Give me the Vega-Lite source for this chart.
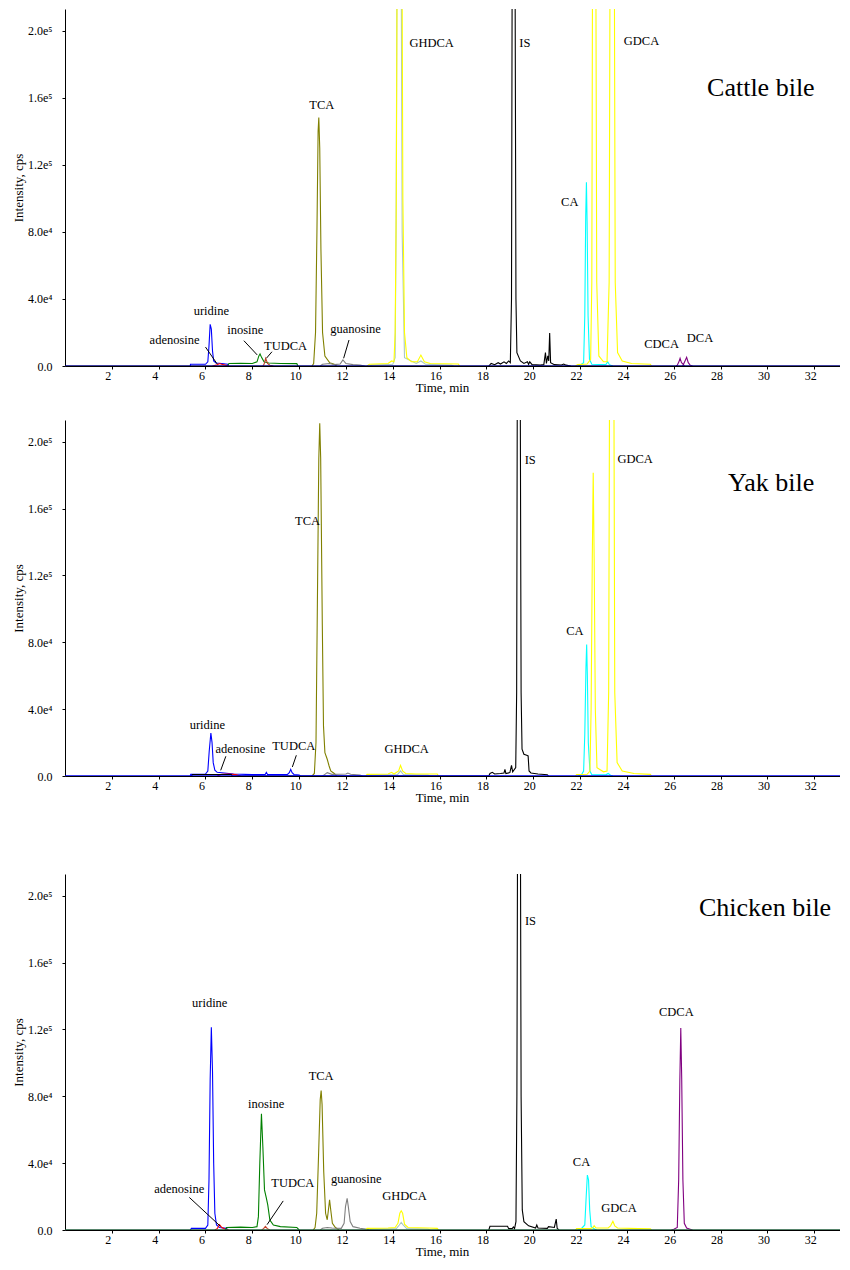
{
"$schema":"https://vega.github.io/schema/vega-lite/v6.json",
"padding":{"top":9,"left":12,"right":0,"bottom":0},
"background":"white",
"config":{"view":{"stroke":null},"font":"Liberation Serif","axis":{"domainColor":"black","tickColor":"black","labelColor":"black","titleColor":"black","grid":false,"labelFont":"Liberation Serif","titleFont":"Liberation Serif","titleFontWeight":"normal","labelFontSize":12,"titleFontSize":13}},
"datasets":{
"traces":[
{"sample":"Cattle","trace":"baseline (cattle)","time":0,"cps":0},{"sample":"Cattle","trace":"baseline (cattle)","time":33.1,"cps":0},
{"sample":"Cattle","trace":"uridine","time":5.35,"cps":0},{"sample":"Cattle","trace":"uridine","time":5.36,"cps":1000},{"sample":"Cattle","trace":"uridine","time":6.0,"cps":1000},{"sample":"Cattle","trace":"uridine","time":6.1,"cps":2500},{"sample":"Cattle","trace":"uridine","time":6.15,"cps":12000},{"sample":"Cattle","trace":"uridine","time":6.2,"cps":24900},{"sample":"Cattle","trace":"uridine","time":6.25,"cps":22000},{"sample":"Cattle","trace":"uridine","time":6.3,"cps":9000},{"sample":"Cattle","trace":"uridine","time":6.35,"cps":3000},{"sample":"Cattle","trace":"uridine","time":6.45,"cps":1800},{"sample":"Cattle","trace":"uridine","time":6.7,"cps":1500},{"sample":"Cattle","trace":"uridine","time":6.95,"cps":1000},{"sample":"Cattle","trace":"uridine","time":7.0,"cps":0},
{"sample":"Cattle","trace":"adenosine","time":6.3,"cps":0},{"sample":"Cattle","trace":"adenosine","time":6.5,"cps":800},{"sample":"Cattle","trace":"adenosine","time":6.6,"cps":1500},{"sample":"Cattle","trace":"adenosine","time":6.75,"cps":800},{"sample":"Cattle","trace":"adenosine","time":7.0,"cps":0},
{"sample":"Cattle","trace":"inosine","time":6.95,"cps":0},{"sample":"Cattle","trace":"inosine","time":7.0,"cps":1500},{"sample":"Cattle","trace":"inosine","time":7.5,"cps":1600},{"sample":"Cattle","trace":"inosine","time":8.0,"cps":1500},{"sample":"Cattle","trace":"inosine","time":8.2,"cps":2500},{"sample":"Cattle","trace":"inosine","time":8.28,"cps":6000},{"sample":"Cattle","trace":"inosine","time":8.33,"cps":7200},{"sample":"Cattle","trace":"inosine","time":8.4,"cps":5000},{"sample":"Cattle","trace":"inosine","time":8.5,"cps":2500},{"sample":"Cattle","trace":"inosine","time":8.7,"cps":1800},{"sample":"Cattle","trace":"inosine","time":9.2,"cps":1500},{"sample":"Cattle","trace":"inosine","time":9.9,"cps":1400},{"sample":"Cattle","trace":"inosine","time":9.95,"cps":0},
{"sample":"Cattle","trace":"TUDCA","time":8.45,"cps":0},{"sample":"Cattle","trace":"TUDCA","time":8.5,"cps":1000},{"sample":"Cattle","trace":"TUDCA","time":8.57,"cps":4600},{"sample":"Cattle","trace":"TUDCA","time":8.65,"cps":1500},{"sample":"Cattle","trace":"TUDCA","time":8.75,"cps":500},{"sample":"Cattle","trace":"TUDCA","time":8.9,"cps":0},
{"sample":"Cattle","trace":"TCA","time":10.55,"cps":0},{"sample":"Cattle","trace":"TCA","time":10.62,"cps":1500},{"sample":"Cattle","trace":"TCA","time":10.7,"cps":20000},{"sample":"Cattle","trace":"TCA","time":10.76,"cps":80000},{"sample":"Cattle","trace":"TCA","time":10.81,"cps":140000},{"sample":"Cattle","trace":"TCA","time":10.84,"cps":148200},{"sample":"Cattle","trace":"TCA","time":10.88,"cps":130000},{"sample":"Cattle","trace":"TCA","time":10.93,"cps":70000},{"sample":"Cattle","trace":"TCA","time":11.0,"cps":20000},{"sample":"Cattle","trace":"TCA","time":11.1,"cps":6000},{"sample":"Cattle","trace":"TCA","time":11.3,"cps":2000},{"sample":"Cattle","trace":"TCA","time":11.5,"cps":1000},{"sample":"Cattle","trace":"TCA","time":11.6,"cps":0},
{"sample":"Cattle","trace":"guanosine","time":10.9,"cps":0},{"sample":"Cattle","trace":"guanosine","time":11.0,"cps":1000},{"sample":"Cattle","trace":"guanosine","time":11.3,"cps":1500},{"sample":"Cattle","trace":"guanosine","time":11.5,"cps":800},{"sample":"Cattle","trace":"guanosine","time":11.75,"cps":1200},{"sample":"Cattle","trace":"guanosine","time":11.87,"cps":3600},{"sample":"Cattle","trace":"guanosine","time":12.0,"cps":1500},{"sample":"Cattle","trace":"guanosine","time":12.3,"cps":800},{"sample":"Cattle","trace":"guanosine","time":12.6,"cps":500},{"sample":"Cattle","trace":"guanosine","time":12.8,"cps":0},
{"sample":"Cattle","trace":"unidentified","time":13.0,"cps":0},{"sample":"Cattle","trace":"unidentified","time":13.1,"cps":500},{"sample":"Cattle","trace":"unidentified","time":14.0,"cps":1000},{"sample":"Cattle","trace":"unidentified","time":14.1,"cps":5000},{"sample":"Cattle","trace":"unidentified","time":14.14,"cps":80000},{"sample":"Cattle","trace":"unidentified","time":14.19,"cps":280000},{"sample":"Cattle","trace":"unidentified","time":14.26,"cps":550000},{"sample":"Cattle","trace":"unidentified","time":14.35,"cps":280000},{"sample":"Cattle","trace":"unidentified","time":14.4,"cps":80000},{"sample":"Cattle","trace":"unidentified","time":14.5,"cps":5000},{"sample":"Cattle","trace":"unidentified","time":15.0,"cps":1500},{"sample":"Cattle","trace":"unidentified","time":15.2,"cps":3000},{"sample":"Cattle","trace":"unidentified","time":15.4,"cps":1000},{"sample":"Cattle","trace":"unidentified","time":16.5,"cps":500},{"sample":"Cattle","trace":"unidentified","time":16.6,"cps":0},
{"sample":"Cattle","trace":"GHDCA","time":12.9,"cps":0},{"sample":"Cattle","trace":"GHDCA","time":13.0,"cps":1000},{"sample":"Cattle","trace":"GHDCA","time":13.8,"cps":1500},{"sample":"Cattle","trace":"GHDCA","time":13.95,"cps":3000},{"sample":"Cattle","trace":"GHDCA","time":14.05,"cps":2500},{"sample":"Cattle","trace":"GHDCA","time":14.1,"cps":20000},{"sample":"Cattle","trace":"GHDCA","time":14.15,"cps":100000},{"sample":"Cattle","trace":"GHDCA","time":14.2,"cps":300000},{"sample":"Cattle","trace":"GHDCA","time":14.28,"cps":600000},{"sample":"Cattle","trace":"GHDCA","time":14.38,"cps":300000},{"sample":"Cattle","trace":"GHDCA","time":14.43,"cps":100000},{"sample":"Cattle","trace":"GHDCA","time":14.5,"cps":20000},{"sample":"Cattle","trace":"GHDCA","time":14.6,"cps":5000},{"sample":"Cattle","trace":"GHDCA","time":14.8,"cps":2500},{"sample":"Cattle","trace":"GHDCA","time":15.05,"cps":2500},{"sample":"Cattle","trace":"GHDCA","time":15.2,"cps":6500},{"sample":"Cattle","trace":"GHDCA","time":15.35,"cps":2500},{"sample":"Cattle","trace":"GHDCA","time":15.6,"cps":1500},{"sample":"Cattle","trace":"GHDCA","time":16.8,"cps":1200},{"sample":"Cattle","trace":"GHDCA","time":16.85,"cps":0},
{"sample":"Cattle","trace":"IS","time":18.1,"cps":0},{"sample":"Cattle","trace":"IS","time":18.2,"cps":1500},{"sample":"Cattle","trace":"IS","time":18.35,"cps":800},{"sample":"Cattle","trace":"IS","time":18.5,"cps":2000},{"sample":"Cattle","trace":"IS","time":18.6,"cps":1200},{"sample":"Cattle","trace":"IS","time":18.75,"cps":2500},{"sample":"Cattle","trace":"IS","time":18.85,"cps":1500},{"sample":"Cattle","trace":"IS","time":18.95,"cps":3000},{"sample":"Cattle","trace":"IS","time":19.02,"cps":2000},{"sample":"Cattle","trace":"IS","time":19.07,"cps":40000},{"sample":"Cattle","trace":"IS","time":19.1,"cps":250000},{"sample":"Cattle","trace":"IS","time":19.16,"cps":600000},{"sample":"Cattle","trace":"IS","time":19.22,"cps":250000},{"sample":"Cattle","trace":"IS","time":19.26,"cps":40000},{"sample":"Cattle","trace":"IS","time":19.3,"cps":8000},{"sample":"Cattle","trace":"IS","time":19.45,"cps":3000},{"sample":"Cattle","trace":"IS","time":19.6,"cps":1500},{"sample":"Cattle","trace":"IS","time":19.75,"cps":2500},{"sample":"Cattle","trace":"IS","time":19.8,"cps":1000},{"sample":"Cattle","trace":"IS","time":19.85,"cps":2500},{"sample":"Cattle","trace":"IS","time":19.95,"cps":800},{"sample":"Cattle","trace":"IS","time":20.3,"cps":500},{"sample":"Cattle","trace":"IS","time":20.45,"cps":800},{"sample":"Cattle","trace":"IS","time":20.52,"cps":8000},{"sample":"Cattle","trace":"IS","time":20.56,"cps":1500},{"sample":"Cattle","trace":"IS","time":20.62,"cps":6000},{"sample":"Cattle","trace":"IS","time":20.66,"cps":3000},{"sample":"Cattle","trace":"IS","time":20.7,"cps":19700},{"sample":"Cattle","trace":"IS","time":20.74,"cps":2000},{"sample":"Cattle","trace":"IS","time":20.9,"cps":800},{"sample":"Cattle","trace":"IS","time":21.2,"cps":600},{"sample":"Cattle","trace":"IS","time":21.3,"cps":1200},{"sample":"Cattle","trace":"IS","time":21.4,"cps":500},{"sample":"Cattle","trace":"IS","time":21.6,"cps":0},
{"sample":"Cattle","trace":"CA","time":21.9,"cps":0},{"sample":"Cattle","trace":"CA","time":22.0,"cps":500},{"sample":"Cattle","trace":"CA","time":22.15,"cps":2000},{"sample":"Cattle","trace":"CA","time":22.2,"cps":30000},{"sample":"Cattle","trace":"CA","time":22.24,"cps":90000},{"sample":"Cattle","trace":"CA","time":22.27,"cps":109700},{"sample":"Cattle","trace":"CA","time":22.3,"cps":85000},{"sample":"Cattle","trace":"CA","time":22.34,"cps":30000},{"sample":"Cattle","trace":"CA","time":22.4,"cps":4000},{"sample":"Cattle","trace":"CA","time":22.5,"cps":1000},{"sample":"Cattle","trace":"CA","time":23.1,"cps":800},{"sample":"Cattle","trace":"CA","time":23.18,"cps":2500},{"sample":"Cattle","trace":"CA","time":23.25,"cps":800},{"sample":"Cattle","trace":"CA","time":23.4,"cps":0},
{"sample":"Cattle","trace":"GDCA","time":21.8,"cps":0},{"sample":"Cattle","trace":"GDCA","time":21.9,"cps":800},{"sample":"Cattle","trace":"GDCA","time":22.3,"cps":1200},{"sample":"Cattle","trace":"GDCA","time":22.45,"cps":4000},{"sample":"Cattle","trace":"GDCA","time":22.5,"cps":50000},{"sample":"Cattle","trace":"GDCA","time":22.54,"cps":300000},{"sample":"Cattle","trace":"GDCA","time":22.6,"cps":600000},{"sample":"Cattle","trace":"GDCA","time":22.66,"cps":300000},{"sample":"Cattle","trace":"GDCA","time":22.71,"cps":50000},{"sample":"Cattle","trace":"GDCA","time":22.8,"cps":6000},{"sample":"Cattle","trace":"GDCA","time":23.0,"cps":2500},{"sample":"Cattle","trace":"GDCA","time":23.15,"cps":2500},{"sample":"Cattle","trace":"GDCA","time":23.24,"cps":50000},{"sample":"Cattle","trace":"GDCA","time":23.29,"cps":300000},{"sample":"Cattle","trace":"GDCA","time":23.37,"cps":600000},{"sample":"Cattle","trace":"GDCA","time":23.45,"cps":300000},{"sample":"Cattle","trace":"GDCA","time":23.5,"cps":50000},{"sample":"Cattle","trace":"GDCA","time":23.6,"cps":8000},{"sample":"Cattle","trace":"GDCA","time":23.8,"cps":3000},{"sample":"Cattle","trace":"GDCA","time":24.2,"cps":1500},{"sample":"Cattle","trace":"GDCA","time":25.0,"cps":1000},{"sample":"Cattle","trace":"GDCA","time":25.05,"cps":0},
{"sample":"Cattle","trace":"CDCA","time":26.1,"cps":0},{"sample":"Cattle","trace":"CDCA","time":26.15,"cps":500},{"sample":"Cattle","trace":"CDCA","time":26.22,"cps":2500},{"sample":"Cattle","trace":"CDCA","time":26.27,"cps":4600},{"sample":"Cattle","trace":"CDCA","time":26.33,"cps":2000},{"sample":"Cattle","trace":"CDCA","time":26.4,"cps":1200},{"sample":"Cattle","trace":"CDCA","time":26.45,"cps":0},
{"sample":"Cattle","trace":"DCA","time":26.38,"cps":0},{"sample":"Cattle","trace":"DCA","time":26.42,"cps":1200},{"sample":"Cattle","trace":"DCA","time":26.48,"cps":3000},{"sample":"Cattle","trace":"DCA","time":26.55,"cps":5200},{"sample":"Cattle","trace":"DCA","time":26.62,"cps":2000},{"sample":"Cattle","trace":"DCA","time":26.7,"cps":500},{"sample":"Cattle","trace":"DCA","time":26.8,"cps":0},

{"sample":"Yak","trace":"baseline (yak)","time":0,"cps":0},{"sample":"Yak","trace":"baseline (yak)","time":33.1,"cps":0},
{"sample":"Yak","trace":"uridine","time":5.35,"cps":0},{"sample":"Yak","trace":"uridine","time":5.37,"cps":1000},{"sample":"Yak","trace":"uridine","time":6.0,"cps":1200},{"sample":"Yak","trace":"uridine","time":6.1,"cps":3000},{"sample":"Yak","trace":"uridine","time":6.16,"cps":15000},{"sample":"Yak","trace":"uridine","time":6.23,"cps":25700},{"sample":"Yak","trace":"uridine","time":6.28,"cps":20000},{"sample":"Yak","trace":"uridine","time":6.33,"cps":8000},{"sample":"Yak","trace":"uridine","time":6.4,"cps":3500},{"sample":"Yak","trace":"uridine","time":6.5,"cps":2200},{"sample":"Yak","trace":"uridine","time":6.8,"cps":1800},{"sample":"Yak","trace":"uridine","time":7.2,"cps":1200},{"sample":"Yak","trace":"uridine","time":8.0,"cps":800},{"sample":"Yak","trace":"uridine","time":8.55,"cps":900},{"sample":"Yak","trace":"uridine","time":8.6,"cps":2200},{"sample":"Yak","trace":"uridine","time":8.65,"cps":900},{"sample":"Yak","trace":"uridine","time":9.5,"cps":900},{"sample":"Yak","trace":"uridine","time":9.58,"cps":2000},{"sample":"Yak","trace":"uridine","time":9.64,"cps":4000},{"sample":"Yak","trace":"uridine","time":9.7,"cps":2000},{"sample":"Yak","trace":"uridine","time":9.78,"cps":900},{"sample":"Yak","trace":"uridine","time":10.0,"cps":600},{"sample":"Yak","trace":"uridine","time":10.05,"cps":0},
{"sample":"Yak","trace":"adenosine","time":6.5,"cps":0},{"sample":"Yak","trace":"adenosine","time":6.7,"cps":1000},{"sample":"Yak","trace":"adenosine","time":7.0,"cps":1200},{"sample":"Yak","trace":"adenosine","time":7.3,"cps":800},{"sample":"Yak","trace":"adenosine","time":7.5,"cps":0},
{"sample":"Yak","trace":"TCA","time":10.55,"cps":0},{"sample":"Yak","trace":"TCA","time":10.65,"cps":1500},{"sample":"Yak","trace":"TCA","time":10.72,"cps":20000},{"sample":"Yak","trace":"TCA","time":10.77,"cps":90000},{"sample":"Yak","trace":"TCA","time":10.84,"cps":190000},{"sample":"Yak","trace":"TCA","time":10.88,"cps":211000},{"sample":"Yak","trace":"TCA","time":10.92,"cps":190000},{"sample":"Yak","trace":"TCA","time":10.99,"cps":90000},{"sample":"Yak","trace":"TCA","time":11.04,"cps":30000},{"sample":"Yak","trace":"TCA","time":11.1,"cps":14000},{"sample":"Yak","trace":"TCA","time":11.2,"cps":10000},{"sample":"Yak","trace":"TCA","time":11.28,"cps":6000},{"sample":"Yak","trace":"TCA","time":11.35,"cps":3000},{"sample":"Yak","trace":"TCA","time":11.5,"cps":1500},{"sample":"Yak","trace":"TCA","time":11.6,"cps":0},
{"sample":"Yak","trace":"guanosine","time":11.0,"cps":0},{"sample":"Yak","trace":"guanosine","time":11.1,"cps":1000},{"sample":"Yak","trace":"guanosine","time":11.2,"cps":2000},{"sample":"Yak","trace":"guanosine","time":11.4,"cps":1000},{"sample":"Yak","trace":"guanosine","time":12.0,"cps":1200},{"sample":"Yak","trace":"guanosine","time":12.08,"cps":1800},{"sample":"Yak","trace":"guanosine","time":12.2,"cps":1000},{"sample":"Yak","trace":"guanosine","time":12.6,"cps":500},{"sample":"Yak","trace":"guanosine","time":12.7,"cps":0},
{"sample":"Yak","trace":"unidentified","time":13.0,"cps":0},{"sample":"Yak","trace":"unidentified","time":13.1,"cps":500},{"sample":"Yak","trace":"unidentified","time":14.2,"cps":800},{"sample":"Yak","trace":"unidentified","time":14.33,"cps":3000},{"sample":"Yak","trace":"unidentified","time":14.45,"cps":900},{"sample":"Yak","trace":"unidentified","time":15.5,"cps":500},{"sample":"Yak","trace":"unidentified","time":15.6,"cps":0},
{"sample":"Yak","trace":"GHDCA","time":12.85,"cps":0},{"sample":"Yak","trace":"GHDCA","time":12.9,"cps":1000},{"sample":"Yak","trace":"GHDCA","time":13.8,"cps":1200},{"sample":"Yak","trace":"GHDCA","time":13.95,"cps":2200},{"sample":"Yak","trace":"GHDCA","time":14.05,"cps":1200},{"sample":"Yak","trace":"GHDCA","time":14.25,"cps":3000},{"sample":"Yak","trace":"GHDCA","time":14.33,"cps":6400},{"sample":"Yak","trace":"GHDCA","time":14.42,"cps":3000},{"sample":"Yak","trace":"GHDCA","time":14.55,"cps":1500},{"sample":"Yak","trace":"GHDCA","time":15.0,"cps":1200},{"sample":"Yak","trace":"GHDCA","time":15.9,"cps":1200},{"sample":"Yak","trace":"GHDCA","time":15.95,"cps":0},
{"sample":"Yak","trace":"IS","time":5.4,"cps":0},{"sample":"Yak","trace":"IS","time":5.45,"cps":900},{"sample":"Yak","trace":"IS","time":7.1,"cps":900},{"sample":"Yak","trace":"IS","time":7.15,"cps":0},{"sample":"Yak","trace":"IS","time":18.1,"cps":0},{"sample":"Yak","trace":"IS","time":18.15,"cps":1500},{"sample":"Yak","trace":"IS","time":18.25,"cps":2200},{"sample":"Yak","trace":"IS","time":18.35,"cps":1200},{"sample":"Yak","trace":"IS","time":18.6,"cps":1500},{"sample":"Yak","trace":"IS","time":18.75,"cps":1800},{"sample":"Yak","trace":"IS","time":18.79,"cps":4000},{"sample":"Yak","trace":"IS","time":18.83,"cps":1500},{"sample":"Yak","trace":"IS","time":19.0,"cps":2000},{"sample":"Yak","trace":"IS","time":19.07,"cps":6400},{"sample":"Yak","trace":"IS","time":19.12,"cps":2500},{"sample":"Yak","trace":"IS","time":19.25,"cps":5000},{"sample":"Yak","trace":"IS","time":19.29,"cps":50000},{"sample":"Yak","trace":"IS","time":19.32,"cps":250000},{"sample":"Yak","trace":"IS","time":19.38,"cps":600000},{"sample":"Yak","trace":"IS","time":19.44,"cps":250000},{"sample":"Yak","trace":"IS","time":19.48,"cps":50000},{"sample":"Yak","trace":"IS","time":19.52,"cps":16000},{"sample":"Yak","trace":"IS","time":19.6,"cps":13000},{"sample":"Yak","trace":"IS","time":19.72,"cps":12400},{"sample":"Yak","trace":"IS","time":19.78,"cps":12000},{"sample":"Yak","trace":"IS","time":19.82,"cps":3000},{"sample":"Yak","trace":"IS","time":19.9,"cps":1800},{"sample":"Yak","trace":"IS","time":20.2,"cps":1200},{"sample":"Yak","trace":"IS","time":20.6,"cps":800},{"sample":"Yak","trace":"IS","time":20.65,"cps":0},
{"sample":"Yak","trace":"CA","time":21.9,"cps":0},{"sample":"Yak","trace":"CA","time":22.05,"cps":600},{"sample":"Yak","trace":"CA","time":22.15,"cps":3000},{"sample":"Yak","trace":"CA","time":22.2,"cps":25000},{"sample":"Yak","trace":"CA","time":22.25,"cps":65000},{"sample":"Yak","trace":"CA","time":22.28,"cps":78600},{"sample":"Yak","trace":"CA","time":22.31,"cps":60000},{"sample":"Yak","trace":"CA","time":22.35,"cps":20000},{"sample":"Yak","trace":"CA","time":22.42,"cps":3000},{"sample":"Yak","trace":"CA","time":22.5,"cps":800},{"sample":"Yak","trace":"CA","time":23.1,"cps":700},{"sample":"Yak","trace":"CA","time":23.2,"cps":1500},{"sample":"Yak","trace":"CA","time":23.3,"cps":500},{"sample":"Yak","trace":"CA","time":23.4,"cps":0},
{"sample":"Yak","trace":"GDCA","time":21.8,"cps":0},{"sample":"Yak","trace":"GDCA","time":21.85,"cps":800},{"sample":"Yak","trace":"GDCA","time":22.3,"cps":1000},{"sample":"Yak","trace":"GDCA","time":22.42,"cps":3000},{"sample":"Yak","trace":"GDCA","time":22.47,"cps":40000},{"sample":"Yak","trace":"GDCA","time":22.52,"cps":130000},{"sample":"Yak","trace":"GDCA","time":22.56,"cps":181500},{"sample":"Yak","trace":"GDCA","time":22.6,"cps":130000},{"sample":"Yak","trace":"GDCA","time":22.65,"cps":40000},{"sample":"Yak","trace":"GDCA","time":22.72,"cps":5000},{"sample":"Yak","trace":"GDCA","time":23.0,"cps":2500},{"sample":"Yak","trace":"GDCA","time":23.15,"cps":3000},{"sample":"Yak","trace":"GDCA","time":23.22,"cps":50000},{"sample":"Yak","trace":"GDCA","time":23.27,"cps":300000},{"sample":"Yak","trace":"GDCA","time":23.35,"cps":600000},{"sample":"Yak","trace":"GDCA","time":23.43,"cps":300000},{"sample":"Yak","trace":"GDCA","time":23.48,"cps":50000},{"sample":"Yak","trace":"GDCA","time":23.58,"cps":8000},{"sample":"Yak","trace":"GDCA","time":23.8,"cps":3000},{"sample":"Yak","trace":"GDCA","time":24.3,"cps":1500},{"sample":"Yak","trace":"GDCA","time":25.0,"cps":1000},{"sample":"Yak","trace":"GDCA","time":25.05,"cps":0},

{"sample":"Chicken","trace":"baseline (chicken)","time":0,"cps":0},{"sample":"Chicken","trace":"baseline (chicken)","time":33.1,"cps":0},
{"sample":"Chicken","trace":"uridine","time":5.35,"cps":0},{"sample":"Chicken","trace":"uridine","time":5.4,"cps":1000},{"sample":"Chicken","trace":"uridine","time":6.0,"cps":1000},{"sample":"Chicken","trace":"uridine","time":6.1,"cps":3000},{"sample":"Chicken","trace":"uridine","time":6.15,"cps":30000},{"sample":"Chicken","trace":"uridine","time":6.2,"cps":90000},{"sample":"Chicken","trace":"uridine","time":6.25,"cps":121300},{"sample":"Chicken","trace":"uridine","time":6.3,"cps":95000},{"sample":"Chicken","trace":"uridine","time":6.35,"cps":40000},{"sample":"Chicken","trace":"uridine","time":6.4,"cps":10000},{"sample":"Chicken","trace":"uridine","time":6.47,"cps":3000},{"sample":"Chicken","trace":"uridine","time":6.6,"cps":1500},{"sample":"Chicken","trace":"uridine","time":6.9,"cps":1000},{"sample":"Chicken","trace":"uridine","time":6.95,"cps":0},
{"sample":"Chicken","trace":"adenosine","time":6.4,"cps":0},{"sample":"Chicken","trace":"adenosine","time":6.5,"cps":800},{"sample":"Chicken","trace":"adenosine","time":6.6,"cps":3200},{"sample":"Chicken","trace":"adenosine","time":6.7,"cps":1500},{"sample":"Chicken","trace":"adenosine","time":6.85,"cps":500},{"sample":"Chicken","trace":"adenosine","time":7.0,"cps":0},
{"sample":"Chicken","trace":"inosine","time":6.85,"cps":0},{"sample":"Chicken","trace":"inosine","time":6.9,"cps":1500},{"sample":"Chicken","trace":"inosine","time":7.5,"cps":1700},{"sample":"Chicken","trace":"inosine","time":8.0,"cps":1500},{"sample":"Chicken","trace":"inosine","time":8.2,"cps":2000},{"sample":"Chicken","trace":"inosine","time":8.26,"cps":8000},{"sample":"Chicken","trace":"inosine","time":8.32,"cps":40000},{"sample":"Chicken","trace":"inosine","time":8.39,"cps":69600},{"sample":"Chicken","trace":"inosine","time":8.45,"cps":50000},{"sample":"Chicken","trace":"inosine","time":8.52,"cps":24000},{"sample":"Chicken","trace":"inosine","time":8.6,"cps":19000},{"sample":"Chicken","trace":"inosine","time":8.66,"cps":15000},{"sample":"Chicken","trace":"inosine","time":8.75,"cps":6000},{"sample":"Chicken","trace":"inosine","time":8.9,"cps":3000},{"sample":"Chicken","trace":"inosine","time":9.2,"cps":2000},{"sample":"Chicken","trace":"inosine","time":9.9,"cps":1500},{"sample":"Chicken","trace":"inosine","time":10.0,"cps":0},
{"sample":"Chicken","trace":"TUDCA","time":8.4,"cps":0},{"sample":"Chicken","trace":"TUDCA","time":8.48,"cps":800},{"sample":"Chicken","trace":"TUDCA","time":8.56,"cps":2200},{"sample":"Chicken","trace":"TUDCA","time":8.64,"cps":800},{"sample":"Chicken","trace":"TUDCA","time":8.75,"cps":0},
{"sample":"Chicken","trace":"TCA","time":10.6,"cps":0},{"sample":"Chicken","trace":"TCA","time":10.68,"cps":1500},{"sample":"Chicken","trace":"TCA","time":10.75,"cps":10000},{"sample":"Chicken","trace":"TCA","time":10.83,"cps":45000},{"sample":"Chicken","trace":"TCA","time":10.9,"cps":78000},{"sample":"Chicken","trace":"TCA","time":10.94,"cps":83500},{"sample":"Chicken","trace":"TCA","time":10.98,"cps":75000},{"sample":"Chicken","trace":"TCA","time":11.05,"cps":35000},{"sample":"Chicken","trace":"TCA","time":11.13,"cps":10000},{"sample":"Chicken","trace":"TCA","time":11.2,"cps":6100},{"sample":"Chicken","trace":"TCA","time":11.25,"cps":12000},{"sample":"Chicken","trace":"TCA","time":11.3,"cps":18000},{"sample":"Chicken","trace":"TCA","time":11.35,"cps":12000},{"sample":"Chicken","trace":"TCA","time":11.42,"cps":4000},{"sample":"Chicken","trace":"TCA","time":11.55,"cps":1500},{"sample":"Chicken","trace":"TCA","time":11.7,"cps":0},
{"sample":"Chicken","trace":"guanosine","time":10.9,"cps":0},{"sample":"Chicken","trace":"guanosine","time":11.0,"cps":1000},{"sample":"Chicken","trace":"guanosine","time":11.2,"cps":1500},{"sample":"Chicken","trace":"guanosine","time":11.4,"cps":1200},{"sample":"Chicken","trace":"guanosine","time":11.8,"cps":1000},{"sample":"Chicken","trace":"guanosine","time":11.92,"cps":4000},{"sample":"Chicken","trace":"guanosine","time":11.98,"cps":14000},{"sample":"Chicken","trace":"guanosine","time":12.05,"cps":19000},{"sample":"Chicken","trace":"guanosine","time":12.1,"cps":14000},{"sample":"Chicken","trace":"guanosine","time":12.18,"cps":5000},{"sample":"Chicken","trace":"guanosine","time":12.3,"cps":2000},{"sample":"Chicken","trace":"guanosine","time":12.6,"cps":1000},{"sample":"Chicken","trace":"guanosine","time":12.9,"cps":500},{"sample":"Chicken","trace":"guanosine","time":13.0,"cps":0},
{"sample":"Chicken","trace":"unidentified","time":13.0,"cps":0},{"sample":"Chicken","trace":"unidentified","time":13.1,"cps":500},{"sample":"Chicken","trace":"unidentified","time":14.15,"cps":800},{"sample":"Chicken","trace":"unidentified","time":14.28,"cps":3000},{"sample":"Chicken","trace":"unidentified","time":14.36,"cps":4500},{"sample":"Chicken","trace":"unidentified","time":14.44,"cps":3000},{"sample":"Chicken","trace":"unidentified","time":14.6,"cps":800},{"sample":"Chicken","trace":"unidentified","time":15.5,"cps":500},{"sample":"Chicken","trace":"unidentified","time":15.6,"cps":0},
{"sample":"Chicken","trace":"GHDCA","time":12.85,"cps":0},{"sample":"Chicken","trace":"GHDCA","time":12.9,"cps":1000},{"sample":"Chicken","trace":"GHDCA","time":13.8,"cps":1200},{"sample":"Chicken","trace":"GHDCA","time":14.1,"cps":1500},{"sample":"Chicken","trace":"GHDCA","time":14.22,"cps":4000},{"sample":"Chicken","trace":"GHDCA","time":14.3,"cps":10000},{"sample":"Chicken","trace":"GHDCA","time":14.36,"cps":11500},{"sample":"Chicken","trace":"GHDCA","time":14.42,"cps":10000},{"sample":"Chicken","trace":"GHDCA","time":14.5,"cps":3500},{"sample":"Chicken","trace":"GHDCA","time":14.65,"cps":1500},{"sample":"Chicken","trace":"GHDCA","time":15.5,"cps":1200},{"sample":"Chicken","trace":"GHDCA","time":15.9,"cps":1000},{"sample":"Chicken","trace":"GHDCA","time":15.95,"cps":0},
{"sample":"Chicken","trace":"IS","time":18.1,"cps":0},{"sample":"Chicken","trace":"IS","time":18.15,"cps":2200},{"sample":"Chicken","trace":"IS","time":18.9,"cps":2200},{"sample":"Chicken","trace":"IS","time":18.95,"cps":800},{"sample":"Chicken","trace":"IS","time":19.1,"cps":800},{"sample":"Chicken","trace":"IS","time":19.15,"cps":1800},{"sample":"Chicken","trace":"IS","time":19.2,"cps":800},{"sample":"Chicken","trace":"IS","time":19.26,"cps":5000},{"sample":"Chicken","trace":"IS","time":19.3,"cps":80000},{"sample":"Chicken","trace":"IS","time":19.34,"cps":300000},{"sample":"Chicken","trace":"IS","time":19.39,"cps":600000},{"sample":"Chicken","trace":"IS","time":19.44,"cps":300000},{"sample":"Chicken","trace":"IS","time":19.48,"cps":80000},{"sample":"Chicken","trace":"IS","time":19.53,"cps":12000},{"sample":"Chicken","trace":"IS","time":19.6,"cps":5000},{"sample":"Chicken","trace":"IS","time":19.8,"cps":2500},{"sample":"Chicken","trace":"IS","time":20.1,"cps":1200},{"sample":"Chicken","trace":"IS","time":20.15,"cps":3000},{"sample":"Chicken","trace":"IS","time":20.2,"cps":1200},{"sample":"Chicken","trace":"IS","time":20.6,"cps":1000},{"sample":"Chicken","trace":"IS","time":20.65,"cps":2000},{"sample":"Chicken","trace":"IS","time":20.9,"cps":1500},{"sample":"Chicken","trace":"IS","time":20.98,"cps":6500},{"sample":"Chicken","trace":"IS","time":21.02,"cps":1000},{"sample":"Chicken","trace":"IS","time":21.1,"cps":0},
{"sample":"Chicken","trace":"CA","time":21.9,"cps":0},{"sample":"Chicken","trace":"CA","time":22.05,"cps":800},{"sample":"Chicken","trace":"CA","time":22.2,"cps":3000},{"sample":"Chicken","trace":"CA","time":22.26,"cps":20000},{"sample":"Chicken","trace":"CA","time":22.31,"cps":32900},{"sample":"Chicken","trace":"CA","time":22.36,"cps":30000},{"sample":"Chicken","trace":"CA","time":22.41,"cps":12000},{"sample":"Chicken","trace":"CA","time":22.47,"cps":2000},{"sample":"Chicken","trace":"CA","time":22.6,"cps":800},{"sample":"Chicken","trace":"CA","time":22.7,"cps":0},
{"sample":"Chicken","trace":"GDCA","time":21.8,"cps":0},{"sample":"Chicken","trace":"GDCA","time":21.85,"cps":800},{"sample":"Chicken","trace":"GDCA","time":22.45,"cps":1000},{"sample":"Chicken","trace":"GDCA","time":22.55,"cps":1500},{"sample":"Chicken","trace":"GDCA","time":22.6,"cps":2600},{"sample":"Chicken","trace":"GDCA","time":22.68,"cps":1200},{"sample":"Chicken","trace":"GDCA","time":23.2,"cps":1200},{"sample":"Chicken","trace":"GDCA","time":23.3,"cps":2500},{"sample":"Chicken","trace":"GDCA","time":23.4,"cps":5200},{"sample":"Chicken","trace":"GDCA","time":23.48,"cps":2500},{"sample":"Chicken","trace":"GDCA","time":23.6,"cps":1200},{"sample":"Chicken","trace":"GDCA","time":24.5,"cps":800},{"sample":"Chicken","trace":"GDCA","time":25.0,"cps":700},{"sample":"Chicken","trace":"GDCA","time":25.05,"cps":0},
{"sample":"Chicken","trace":"CDCA","time":25.9,"cps":0},{"sample":"Chicken","trace":"CDCA","time":26.0,"cps":500},{"sample":"Chicken","trace":"CDCA","time":26.15,"cps":1500},{"sample":"Chicken","trace":"CDCA","time":26.21,"cps":30000},{"sample":"Chicken","trace":"CDCA","time":26.26,"cps":90000},{"sample":"Chicken","trace":"CDCA","time":26.3,"cps":120800},{"sample":"Chicken","trace":"CDCA","time":26.34,"cps":90000},{"sample":"Chicken","trace":"CDCA","time":26.39,"cps":30000},{"sample":"Chicken","trace":"CDCA","time":26.45,"cps":4000},{"sample":"Chicken","trace":"CDCA","time":26.55,"cps":1200},{"sample":"Chicken","trace":"CDCA","time":26.7,"cps":500},{"sample":"Chicken","trace":"CDCA","time":26.8,"cps":0}
],
"labels":[
{"sample":"Cattle","label":"uridine","time":6.25,"cps":32800},{"sample":"Cattle","label":"adenosine","time":4.68,"cps":15500},{"sample":"Cattle","label":"inosine","time":7.7,"cps":21500},{"sample":"Cattle","label":"TUDCA","time":9.42,"cps":12100},{"sample":"Cattle","label":"guanosine","time":12.41,"cps":21900},{"sample":"Cattle","label":"TCA","time":10.97,"cps":156000},{"sample":"Cattle","label":"GHDCA","time":15.66,"cps":193000},{"sample":"Cattle","label":"IS","time":19.64,"cps":193000},{"sample":"Cattle","label":"GDCA","time":24.62,"cps":194000},{"sample":"Cattle","label":"CA","time":21.56,"cps":97700},{"sample":"Cattle","label":"CDCA","time":25.48,"cps":13000},{"sample":"Cattle","label":"DCA","time":27.12,"cps":16900},
{"sample":"Yak","label":"uridine","time":6.08,"cps":30300},{"sample":"Yak","label":"adenosine","time":7.49,"cps":16300},{"sample":"Yak","label":"TUDCA","time":9.77,"cps":17700},{"sample":"Yak","label":"TCA","time":10.36,"cps":152700},{"sample":"Yak","label":"GHDCA","time":14.59,"cps":16300},{"sample":"Yak","label":"IS","time":19.87,"cps":188900},{"sample":"Yak","label":"GDCA","time":24.35,"cps":189400},{"sample":"Yak","label":"CA","time":21.78,"cps":86600},
{"sample":"Chicken","label":"uridine","time":6.18,"cps":135700},{"sample":"Chicken","label":"adenosine","time":4.88,"cps":24400},{"sample":"Chicken","label":"inosine","time":8.59,"cps":75200},{"sample":"Chicken","label":"TUDCA","time":9.73,"cps":28000},{"sample":"Chicken","label":"TCA","time":10.94,"cps":92000},{"sample":"Chicken","label":"guanosine","time":12.44,"cps":30400},{"sample":"Chicken","label":"GHDCA","time":14.5,"cps":20400},{"sample":"Chicken","label":"IS","time":19.88,"cps":185100},{"sample":"Chicken","label":"CA","time":22.06,"cps":40900},{"sample":"Chicken","label":"GDCA","time":23.66,"cps":13100},{"sample":"Chicken","label":"CDCA","time":26.11,"cps":130500}
],
"samples":[
{"sample":"Cattle","name":"Cattle bile","time":29.72,"cps":166000},
{"sample":"Yak","name":"Yak bile","time":30.16,"cps":175500},
{"sample":"Chicken","name":"Chicken bile","time":29.9,"cps":192700}
],
"leaders":[
{"sample":"Cattle","label":"adenosine","t1":6.0,"y1":11300,"t2":6.5,"y2":1200},
{"sample":"Cattle","label":"inosine","t1":7.64,"y1":15100,"t2":8.21,"y2":6600},
{"sample":"Cattle","label":"TUDCA","t1":8.84,"y1":8500,"t2":8.6,"y2":4600},
{"sample":"Cattle","label":"guanosine","t1":12.13,"y1":15500,"t2":11.9,"y2":4600},
{"sample":"Yak","label":"adenosine","t1":6.87,"y1":11800,"t2":6.65,"y2":3400},
{"sample":"Yak","label":"TUDCA","t1":9.88,"y1":12400,"t2":9.71,"y2":5400},
{"sample":"Chicken","label":"adenosine","t1":5.31,"y1":19500,"t2":6.64,"y2":2200},
{"sample":"Chicken","label":"TUDCA","t1":9.32,"y1":17400,"t2":8.63,"y2":3200}
]
},
"vconcat":[
{"vconcat":[
{"width":775,"height":357,
"layer":[
{"data":{"name":"traces"},"transform":[{"filter":"datum.sample==='Cattle' && indexof(datum.trace,'baseline')<0"}],"mark":{"type":"line","strokeWidth":1.1,"clip":true},
"encoding":{"x":{"field":"time","type":"quantitative","scale":{"domain":[0,33.1],"nice":false,"zero":false},"axis":{"values":[2,4,6,8,10,12,14,16,18,20,22,24,26,28,30,32],"title":"Time, min","tickSize":3,"labelPadding":1,"titlePadding":0,"labelOffset":-4,"titleX":377}},
"y":{"field":"cps","type":"quantitative","scale":{"domain":[0,213000],"nice":false},"axis":{"values":[0,40000,80000,120000,160000,200000],"labelExpr":"datum.value==0?'0.0':(datum.value<100000?format(datum.value/10000,'.1f')+'e⁴':format(datum.value/100000,'.1f')+'e⁵')","title":"Intensity, cps","tickSize":3,"labelPadding":10,"titlePadding":2}},
"color":{"field":"trace","type":"nominal","legend":null,"scale":{"domain":["uridine","adenosine","inosine","TUDCA","TCA","guanosine","GHDCA","unidentified","IS","CA","GDCA","CDCA","DCA","baseline (cattle)","baseline (yak)","baseline (chicken)"],"range":["#0000FF","#FF0000","#008000","#C0402A","#808000","#808080","#FFFF00","#A9C9C2","#000000","#00FFFF","#FFFF00","#800080","#800080","#000080","#0000EE","#1E5B3A"]}}}},
{"data":{"name":"traces"},"transform":[{"filter":"datum.sample==='Cattle' && indexof(datum.trace,'baseline')>=0"}],"mark":{"type":"line","strokeWidth":1.6,"clip":true},
"encoding":{"x":{"field":"time","type":"quantitative"},"y":{"field":"cps","type":"quantitative"},"color":{"field":"trace","type":"nominal","legend":null}}},
{"data":{"name":"leaders"},"transform":[{"filter":"datum.sample==='Cattle'"}],"mark":{"type":"rule","color":"black","strokeWidth":1},
"encoding":{"x":{"field":"t1","type":"quantitative"},"y":{"field":"y1","type":"quantitative"},"x2":{"field":"t2"},"y2":{"field":"y2"}}},
{"data":{"name":"labels"},"transform":[{"filter":"datum.sample==='Cattle'"}],"mark":{"type":"text","font":"Liberation Serif","fontSize":12.5,"color":"black","align":"center","baseline":"middle"},
"encoding":{"x":{"field":"time","type":"quantitative"},"y":{"field":"cps","type":"quantitative"},"text":{"field":"label"}}},
{"data":{"name":"samples"},"transform":[{"filter":"datum.sample==='Cattle'"}],"mark":{"type":"text","font":"Liberation Serif","fontSize":26,"color":"black","align":"center","baseline":"middle"},
"encoding":{"x":{"field":"time","type":"quantitative"},"y":{"field":"cps","type":"quantitative"},"text":{"field":"name"}}}
]},
{"width":775,"height":356,
"layer":[
{"data":{"name":"traces"},"transform":[{"filter":"datum.sample==='Yak' && indexof(datum.trace,'baseline')<0"}],"mark":{"type":"line","strokeWidth":1.1,"clip":true},
"encoding":{"x":{"field":"time","type":"quantitative","scale":{"domain":[0,33.1],"nice":false,"zero":false},"axis":{"values":[2,4,6,8,10,12,14,16,18,20,22,24,26,28,30,32],"title":"Time, min","tickSize":3,"labelPadding":1,"titlePadding":0,"labelOffset":-4,"titleX":377}},
"y":{"field":"cps","type":"quantitative","scale":{"domain":[0,213000],"nice":false},"axis":{"values":[0,40000,80000,120000,160000,200000],"labelExpr":"datum.value==0?'0.0':(datum.value<100000?format(datum.value/10000,'.1f')+'e⁴':format(datum.value/100000,'.1f')+'e⁵')","title":"Intensity, cps","tickSize":3,"labelPadding":10,"titlePadding":2}},
"color":{"field":"trace","type":"nominal","legend":null,"scale":{"domain":["uridine","adenosine","inosine","TUDCA","TCA","guanosine","GHDCA","unidentified","IS","CA","GDCA","CDCA","DCA","baseline (cattle)","baseline (yak)","baseline (chicken)"],"range":["#0000FF","#FF0000","#008000","#C0402A","#808000","#808080","#FFFF00","#A9C9C2","#000000","#00FFFF","#FFFF00","#800080","#800080","#000080","#0000EE","#1E5B3A"]}}}},
{"data":{"name":"traces"},"transform":[{"filter":"datum.sample==='Yak' && indexof(datum.trace,'baseline')>=0"}],"mark":{"type":"line","strokeWidth":1.6,"clip":true},
"encoding":{"x":{"field":"time","type":"quantitative"},"y":{"field":"cps","type":"quantitative"},"color":{"field":"trace","type":"nominal","legend":null}}},
{"data":{"name":"leaders"},"transform":[{"filter":"datum.sample==='Yak'"}],"mark":{"type":"rule","color":"black","strokeWidth":1},
"encoding":{"x":{"field":"t1","type":"quantitative"},"y":{"field":"y1","type":"quantitative"},"x2":{"field":"t2"},"y2":{"field":"y2"}}},
{"data":{"name":"labels"},"transform":[{"filter":"datum.sample==='Yak'"}],"mark":{"type":"text","font":"Liberation Serif","fontSize":12.5,"color":"black","align":"center","baseline":"middle"},
"encoding":{"x":{"field":"time","type":"quantitative"},"y":{"field":"cps","type":"quantitative"},"text":{"field":"label"}}},
{"data":{"name":"samples"},"transform":[{"filter":"datum.sample==='Yak'"}],"mark":{"type":"text","font":"Liberation Serif","fontSize":26,"color":"black","align":"center","baseline":"middle"},
"encoding":{"x":{"field":"time","type":"quantitative"},"y":{"field":"cps","type":"quantitative"},"text":{"field":"name"}}}
]}
],"spacing":26},
{"width":775,"height":356,
"layer":[
{"data":{"name":"traces"},"transform":[{"filter":"datum.sample==='Chicken' && indexof(datum.trace,'baseline')<0"}],"mark":{"type":"line","strokeWidth":1.1,"clip":true},
"encoding":{"x":{"field":"time","type":"quantitative","scale":{"domain":[0,33.1],"nice":false,"zero":false},"axis":{"values":[2,4,6,8,10,12,14,16,18,20,22,24,26,28,30,32],"title":"Time, min","tickSize":3,"labelPadding":1,"titlePadding":0,"labelOffset":-4,"titleX":377}},
"y":{"field":"cps","type":"quantitative","scale":{"domain":[0,213000],"nice":false},"axis":{"values":[0,40000,80000,120000,160000,200000],"labelExpr":"datum.value==0?'0.0':(datum.value<100000?format(datum.value/10000,'.1f')+'e⁴':format(datum.value/100000,'.1f')+'e⁵')","title":"Intensity, cps","tickSize":3,"labelPadding":10,"titlePadding":2}},
"color":{"field":"trace","type":"nominal","legend":null,"scale":{"domain":["uridine","adenosine","inosine","TUDCA","TCA","guanosine","GHDCA","unidentified","IS","CA","GDCA","CDCA","DCA","baseline (cattle)","baseline (yak)","baseline (chicken)"],"range":["#0000FF","#FF0000","#008000","#C0402A","#808000","#808080","#FFFF00","#A9C9C2","#000000","#00FFFF","#FFFF00","#800080","#800080","#000080","#0000EE","#1E5B3A"]}}}},
{"data":{"name":"traces"},"transform":[{"filter":"datum.sample==='Chicken' && indexof(datum.trace,'baseline')>=0"}],"mark":{"type":"line","strokeWidth":1.6,"clip":true},
"encoding":{"x":{"field":"time","type":"quantitative"},"y":{"field":"cps","type":"quantitative"},"color":{"field":"trace","type":"nominal","legend":null}}},
{"data":{"name":"leaders"},"transform":[{"filter":"datum.sample==='Chicken'"}],"mark":{"type":"rule","color":"black","strokeWidth":1},
"encoding":{"x":{"field":"t1","type":"quantitative"},"y":{"field":"y1","type":"quantitative"},"x2":{"field":"t2"},"y2":{"field":"y2"}}},
{"data":{"name":"labels"},"transform":[{"filter":"datum.sample==='Chicken'"}],"mark":{"type":"text","font":"Liberation Serif","fontSize":12.5,"color":"black","align":"center","baseline":"middle"},
"encoding":{"x":{"field":"time","type":"quantitative"},"y":{"field":"cps","type":"quantitative"},"text":{"field":"label"}}},
{"data":{"name":"samples"},"transform":[{"filter":"datum.sample==='Chicken'"}],"mark":{"type":"text","font":"Liberation Serif","fontSize":26,"color":"black","align":"center","baseline":"middle"},
"encoding":{"x":{"field":"time","type":"quantitative"},"y":{"field":"cps","type":"quantitative"},"text":{"field":"name"}}}
]}
],
"spacing":70
}
